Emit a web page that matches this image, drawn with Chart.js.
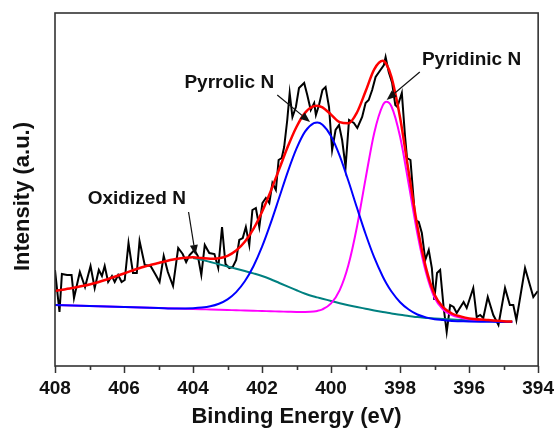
<!DOCTYPE html>
<html>
<head>
<meta charset="utf-8">
<script src="https://cdn.jsdelivr.net/npm/chart.js@4/dist/chart.umd.min.js"></script>
<style>
  html, body { margin: 0; padding: 0; background: #ffffff; }
  canvas { display: block; }
</style>
</head>
<body>
<canvas id="c" width="558" height="429"></canvas>
<script>
// ---------- Raw N 1s spectrum (binding energy in eV, intensity in a.u.) ----------
const rawEnergy = [408.00, 407.87, 407.80, 407.65, 407.52, 407.45, 407.28, 407.13, 406.97, 406.85,
  406.73, 406.64, 406.56, 406.46, 406.35, 406.27, 406.17, 406.07, 405.98, 405.87,
  405.74, 405.63, 405.55, 405.40, 405.23, 405.08, 404.97, 404.85, 404.73, 404.58,
  404.43, 404.30, 404.20, 404.10, 403.96, 403.86, 403.76, 403.66, 403.53, 403.38,
  403.27, 403.16, 403.06, 402.95, 402.85, 402.75, 402.66, 402.56, 402.47, 402.37,
  402.28, 402.18, 402.08, 401.99, 401.89, 401.79, 401.70, 401.60, 401.52, 401.43,
  401.36, 401.27, 401.20, 401.12, 401.02, 400.93, 400.78, 400.69, 400.59, 400.49,
  400.44, 400.35, 400.25, 400.16, 400.06, 399.97, 399.87, 399.77, 399.68, 399.58,
  399.48, 399.34, 399.24, 399.10, 399.00, 398.91, 398.81, 398.71, 398.57, 398.47,
  398.42, 398.33, 398.23, 398.14, 398.08, 397.95, 397.86, 397.80, 397.70, 397.56,
  397.46, 397.37, 397.27, 397.17, 397.08, 397.01, 396.93, 396.84, 396.74, 396.65,
  396.55, 396.45, 396.36, 396.16, 396.07, 395.88, 395.78, 395.68, 395.59, 395.46,
  395.30, 395.15, 394.96, 394.82, 394.72, 394.63, 394.38, 394.14, 394.01];
const rawIntensity = [96, 54, 92, 91, 91, 68, 94, 79, 100, 78,
  96, 90, 100, 84, 90, 84, 91, 84, 86, 123,
  93, 93, 125, 101, 100, 91, 84, 110, 94, 80,
  118, 112, 104, 111, 116, 110, 91, 121, 113, 112,
  98, 139, 102, 98, 99, 106, 126, 128, 139, 121,
  156, 158, 139, 163, 168, 163, 183, 176, 206, 208,
  219, 246, 273, 249, 259, 278, 283, 271, 256, 263,
  251, 261, 276, 279, 259, 216, 236, 241, 226, 199,
  246, 243, 238, 249, 263, 266, 276, 289, 296, 301,
  309, 294, 283, 261, 259, 273, 231, 208, 206, 146,
  144, 133, 106, 116, 98, 66, 93, 96, 59, 34,
  61, 59, 53, 64, 58, 78, 49, 51, 48, 69,
  51, 41, 78, 61, 61, 46, 98, 69, 75];

// ---------- Fitted components, read on a common energy grid ----------
const fitEnergy = [408, 407.5, 407, 406.5, 406, 405.5, 405, 404.5, 404, 403.75,
  403.5, 403.25, 403, 402.75, 402.5, 402.25, 402, 401.75, 401.5, 401.25,
  401, 400.75, 400.5, 400.4, 400.25, 400, 399.75, 399.5, 399.25, 399,
  398.75, 398.5, 398.4, 398.25, 398, 397.75, 397.5, 397.25, 397, 396.75,
  396.5, 396.25, 396, 395.5, 395, 394.75];
const totalFit = [75, 78, 81.5, 86.5, 92.5, 98.5, 103, 107, 108.8, 107.9,
  107.2, 107.8, 110.2, 115.5, 124.2, 137.1, 154.3, 174.8, 197.2, 219.7,
  239.3, 253.4, 259.9, 260.3, 258.6, 251.4, 243.8, 242.7, 253.5, 274.7,
  296.7, 305.2, 302.0, 289, 248.2, 193.7, 139.9, 98.1, 71.3, 58.6,
  52.5, 49.6, 47.6, 46.1, 44.8, 44.4];
const pyrrolicN = [61, 60.5, 60, 59.5, 59, 58.5, 58, 57.5, 57.8, 58.4,
  59.7, 62.3, 66.7, 73.9, 84.7, 99.8, 119.3, 142.8, 168.7, 194.7,
  217.6, 234.6, 242.8, 243.4, 241.2, 229.8, 210.2, 185.2, 158.2, 132.0,
  108.6, 89.3, 82.8, 74.5, 63.8, 56.5, 51.5, 48.6, 46.8, 45.9,
  45, 44.75, 44.5, 44.25, 44, 44];
const pyridinicN = [61, 60.5, 60, 59.5, 59, 58.5, 58, 57.5, 57, 56.75,
  56.5, 56.25, 56, 55.75, 55.5, 55.25, 55, 54.75, 54.5, 54.25,
  54, 54.1, 54.6, 55.1, 56.7, 62.6, 75.8, 100.7, 139.3, 187.4,
  233.1, 260.9, 264.2, 259.5, 229.2, 181.7, 132.5, 93.4, 68.1, 56.3,
  51, 48.3, 46.5, 45.3, 44.3, 44];
const oxidizedN = [null, null, null, null, null, null, null, null, 108, 106.3,
  104, 101.8, 99.5, 97.3, 95, 92.6, 90, 86.8, 83, 79.3,
  75.7, 72.3, 69.5, 68.6, 67.3, 65, 62.8, 60.8, 59, 57.3,
  55.6, 54, 53.4, 52.6, 51.2, 50.1, 48.9, 48.1, 47.4, 47,
  46.5, 46.1, 45.6, 45.1, 44.5, 44.4];

// ---------- Axis ----------
const xMin = 394, xMax = 408, yMin = 0, yMax = 353;
const xTickLabels = [394, 396, 398, 400, 402, 404, 406, 408];

// ---------- Annotations (anchored in data coordinates) ----------
const labels = [
  { text: 'Pyrrolic N',  at: [402.95, 278], from: [401.56, 271], to: [400.61, 244] },
  { text: 'Pyridinic N', at: [395.93, 301], from: [397.43, 294], to: [398.39, 266] },
  { text: 'Oxidized N',  at: [405.63, 162], from: [404.13, 154], to: [403.93, 111] }
];

const FONT = '"Liberation Sans", Arial, Helvetica, sans-serif';
const pts = (xs, ys) => xs.map((x, i) => ({ x: x, y: ys[i] }));

const decor = {
  id: 'decor',
  afterDraw(chart) {
    const { ctx, chartArea: a, scales: { x, y } } = chart;
    ctx.save();
    // frame
    ctx.strokeStyle = '#333';
    ctx.lineWidth = 1.6;
    ctx.strokeRect(a.left, a.top, a.right - a.left, a.bottom - a.top);
    // minor ticks
    ctx.beginPath();
    for (let v = xMin + 1; v < xMax; v += 2) {
      const px = Math.round(x.getPixelForValue(v)) + 0.5;
      ctx.moveTo(px, a.bottom);
      ctx.lineTo(px, a.bottom + 4);
    }
    ctx.stroke();
    // y title
    ctx.fillStyle = '#111';
    ctx.font = 'bold 22px ' + FONT;
    ctx.textAlign = 'center';
    ctx.textBaseline = 'middle';
    ctx.translate(23, (a.top + a.bottom) / 2 + 7);
    ctx.rotate(-Math.PI / 2);
    ctx.fillText('Intensity (a.u.)', 0, 0);
    ctx.restore();

    // annotations
    ctx.save();
    ctx.fillStyle = '#111';
    ctx.strokeStyle = '#111';
    ctx.font = 'bold 19px ' + FONT;
    ctx.textAlign = 'center';
    ctx.textBaseline = 'alphabetic';
    labels.forEach(l => {
      ctx.fillText(l.text, x.getPixelForValue(l.at[0]), y.getPixelForValue(l.at[1]));
      const x1 = x.getPixelForValue(l.from[0]), y1 = y.getPixelForValue(l.from[1]);
      const x2 = x.getPixelForValue(l.to[0]), y2 = y.getPixelForValue(l.to[1]);
      const ang = Math.atan2(y2 - y1, x2 - x1);
      const hl = 10, hw = 4;
      const bx = x2 - hl * Math.cos(ang), by = y2 - hl * Math.sin(ang);
      ctx.lineWidth = 1.2;
      ctx.beginPath();
      ctx.moveTo(x1, y1);
      ctx.lineTo(bx, by);
      ctx.stroke();
      ctx.beginPath();
      ctx.moveTo(x2, y2);
      ctx.lineTo(bx + hw * Math.sin(ang), by - hw * Math.cos(ang));
      ctx.lineTo(bx - hw * Math.sin(ang), by + hw * Math.cos(ang));
      ctx.closePath();
      ctx.fill();
    });
    ctx.restore();
  }
};

new Chart(document.getElementById('c'), {
  type: 'line',
  data: {
    datasets: [
      { label: 'Total fit', data: pts(fitEnergy, totalFit), borderColor: '#ff0000', borderWidth: 2.5,
        cubicInterpolationMode: 'monotone', order: 0 },
      { label: 'Pyrrolic N', data: pts(fitEnergy, pyrrolicN), borderColor: '#0000ff', borderWidth: 2,
        cubicInterpolationMode: 'monotone', order: 1 },
      { label: 'Pyridinic N', data: pts(fitEnergy, pyridinicN), borderColor: '#ff00ff', borderWidth: 2,
        cubicInterpolationMode: 'monotone', order: 2 },
      { label: 'Oxidized N', data: pts(fitEnergy, oxidizedN), borderColor: '#008080', borderWidth: 2,
        cubicInterpolationMode: 'monotone', order: 3 },
      { label: 'Raw', data: pts(rawEnergy, rawIntensity), borderColor: '#000000', borderWidth: 2,
        tension: 0, order: 4 }
    ]
  },
  options: {
    responsive: false,
    animation: false,
    devicePixelRatio: 1,
    layout: { padding: { left: 55, top: 13, right: 18, bottom: 0 } },
    elements: { point: { radius: 0 }, line: { fill: false } },
    plugins: { legend: { display: false }, tooltip: { enabled: false } },
    scales: {
      x: {
        type: 'linear', reverse: true, min: xMin, max: xMax,
        afterFit(scale) { scale.height = 63; },
        border: { display: false },
        grid: {
          drawOnChartArea: false, drawTicks: true, tickLength: 7, tickWidth: 1.5,
          tickColor: (c) => (c.tick && xTickLabels.includes(c.tick.value)) ? '#333' : 'rgba(0,0,0,0)'
        },
        ticks: {
          stepSize: 1, autoSkip: false, maxRotation: 0, padding: 4, color: '#111',
          font: { family: FONT, size: 19, weight: 'bold' },
          callback: (v) => xTickLabels.includes(v) ? String(v) : ''
        },
        title: {
          display: true, text: 'Binding Energy (eV)', color: '#111',
          font: { family: FONT, size: 22, weight: 'bold', lineHeight: 1 },
          padding: { top: 0, bottom: 1 }
        }
      },
      y: { display: false, min: yMin, max: yMax }
    }
  },
  plugins: [decor]
});
</script>
</body>
</html>
